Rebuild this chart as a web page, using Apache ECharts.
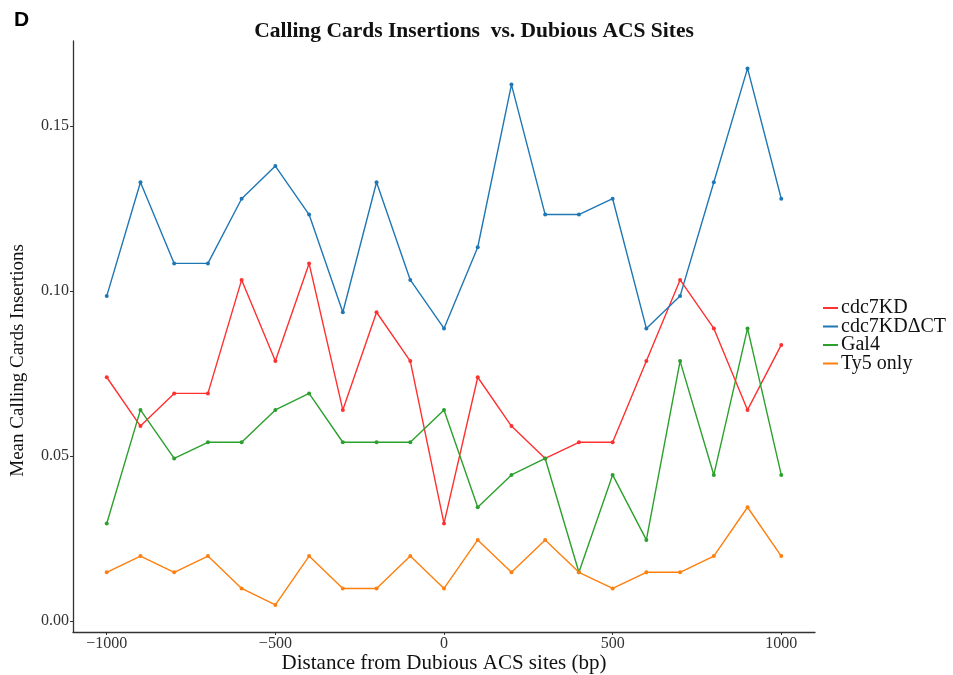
<!DOCTYPE html>
<html>
<head>
<meta charset="utf-8">
<script src="https://cdn.jsdelivr.net/npm/echarts@6/dist/echarts.min.js"></script>
<style>
html,body{margin:0;padding:0;background:#fff;overflow:hidden;}
#chart{width:953px;height:675px;}
</style>
</head>
<body>
<div id="chart"></div>
<script>
const distances = [-1000,-900,-800,-700,-600,-500,-400,-300,-200,-100,0,100,200,300,400,500,600,700,800,900,1000];
const cdc7KD = [0.0739,0.0591,0.069,0.069,0.1034,0.0788,0.1084,0.064,0.0936,0.0788,0.0296,0.0739,0.0591,0.0493,0.0542,0.0542,0.0788,0.1034,0.0887,0.064,0.0837];
const cdc7KDdCT = [0.0985,0.133,0.1084,0.1084,0.128,0.1379,0.1232,0.0936,0.133,0.1034,0.0887,0.1133,0.1626,0.1232,0.1232,0.128,0.0887,0.0985,0.133,0.1675,0.128];
const gal4 = [0.0296,0.064,0.0493,0.0542,0.0542,0.064,0.069,0.0542,0.0542,0.0542,0.064,0.0345,0.0443,0.0493,0.0148,0.0443,0.0246,0.0788,0.0443,0.0887,0.0443];
const ty5Only = [0.0148,0.0197,0.0148,0.0197,0.0099,0.0049,0.0197,0.0099,0.0099,0.0197,0.0099,0.0246,0.0148,0.0246,0.0148,0.0099,0.0148,0.0148,0.0197,0.0345,0.0197];
const seriesNames = ['cdc7KD','cdc7KD\u0394CT','Gal4','Ty5 only'];
const seriesColors = ['#ff3030','#1f77b4','#2ca02c','#ff7f0e'];
const xTicks = [-1000,-500,0,500,1000];
const yTicks = [0,0.05,0.10,0.15];

const serif = 'Liberation Serif';
const chart = echarts.init(document.getElementById('chart'), null, {renderer:'canvas'});
const allData = [cdc7KD, cdc7KDdCT, gal4, ty5Only];
const series = allData.map((vals, i) => ({
  name: seriesNames[i],
  type: 'line',
  data: distances.map((d, j) => [d, vals[j]]),
  symbol: 'circle',
  symbolSize: 4,
  showSymbol: true,
  lineStyle: {width: 1.4, color: seriesColors[i]},
  itemStyle: {color: seriesColors[i]},
  legendIcon: 'rect',
  animation: false
}));

chart.setOption({
  animation: false,
  backgroundColor: '#fff',
  title: [{
    text: 'Calling Cards Insertions  vs. Dubious ACS Sites',
    left: 469, top: 15, textAlign: 'center',
    textStyle: {fontFamily: serif, fontWeight: 'bold', fontSize: 21.5, color: '#111'}
  }, {
    text: 'D', left: 9, top: 5,
    textStyle: {fontFamily: 'Liberation Sans', fontWeight: 'bold', fontSize: 21, color: '#000'}
  }],
  legend: {
    orient: 'vertical', left: 818, top: 293,
    itemWidth: 15, itemHeight: 2, itemGap: -1.5,
    icon: 'rect',
    textStyle: {fontFamily: serif, fontSize: 20, color: '#111', padding: [0,0,0,-2]},
    data: seriesNames
  },
  grid: {left: 73, right: 138, top: 41, bottom: 43, containLabel: false, outerBoundsMode: 'none'},
  xAxis: {
    type: 'value', min: -1100, max: 1100,
    name: 'Distance from Dubious ACS sites (bp)',
    nameLocation: 'middle', nameGap: 21, nameMoveOverlap: false,
    nameTextStyle: {fontFamily: serif, fontSize: 21, color: '#111'},
    axisLine: {show: true, onZero: false, lineStyle: {color: '#333', width: 1.3}},
    axisTick: {show: true, length: 3, customValues: xTicks, lineStyle: {color: '#333'}},
    axisLabel: {customValues: xTicks, fontFamily: serif, fontSize: 16, color: '#333', margin: 4,
      formatter: v => String(v).replace('-', '\u2212')},
    splitLine: {show: false}
  },
  yAxis: {
    type: 'value', min: -0.0033, max: 0.1758,
    axisLine: {show: true, onZero: false, lineStyle: {color: '#333', width: 1.3}},
    axisTick: {show: true, length: 3, customValues: yTicks, lineStyle: {color: '#333'}},
    axisLabel: {customValues: yTicks, fontFamily: serif, fontSize: 16, color: '#333', margin: 4,
      formatter: v => v.toFixed(2)},
    splitLine: {show: false}
  },
  graphic: [{
    type: 'text',
    left: 9, top: 244,
    rotation: Math.PI / 2,
    style: {
      text: 'Mean Calling Cards Insertions',
      font: '19px "Liberation Serif"',
      fill: '#111'
    }
  }],
  series: series
});
</script>
</body>
</html>
